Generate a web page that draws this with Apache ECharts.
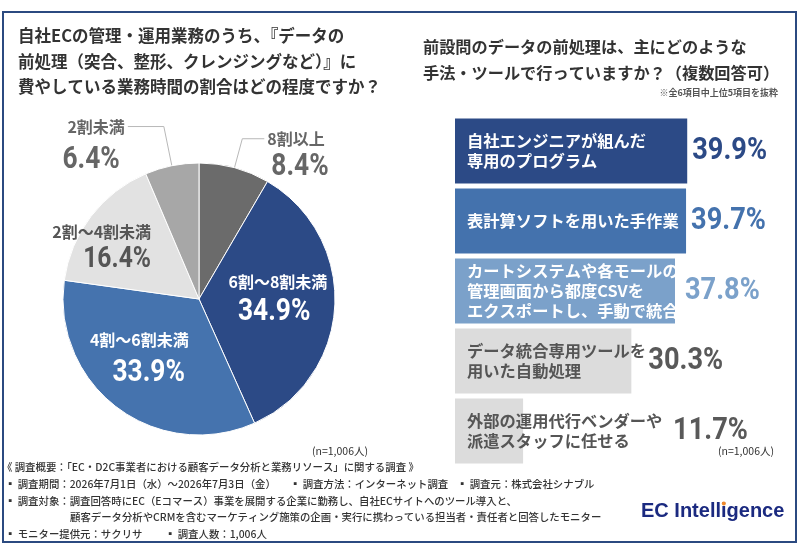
<!DOCTYPE html>
<html><head><meta charset="utf-8">
<script src="https://cdn.jsdelivr.net/npm/echarts@6/dist/echarts.min.js"></script>
<style>html,body{margin:0;padding:0;background:#fff}#c{width:800px;height:553px}</style>
</head><body><div id="c"></div>
<script>
// ---- data ----
const pieNames = ['8割以上', '6割～8割未満', '4割～6割未満', '2割～4割未満', '2割未満'];
const pieValues = [8.4, 34.9, 33.9, 16.4, 6.4];
const barCategories = [
  '自社エンジニアが組んだ\n専用のプログラム',
  '表計算ソフトを用いた手作業',
  'カートシステムや各モールの\n管理画面から都度CSVを\nエクスポートし、手動で統合',
  'データ統合専用ツールを\n用いた自動処理',
  '外部の運用代行ベンダーや\n派遣スタッフに任せる'
];
const barValues = [39.9, 39.7, 37.8, 30.3, 11.7];
const sampleNote = '(n=1,006人)';

// ---- styles ----
const JP = '"Noto Sans CJK JP", "Noto Sans", sans-serif';
const NUM = 'Roboto';
const NUM_SCALE = 0.85;
const pieColors = ['#6b6b6b', '#2c4a86', '#4573ae', '#e2e2e2', '#a7a7a7'];
const pieTextColors = ['#666666', '#ffffff', '#ffffff', '#555555', '#666666'];
const barColors = ['#2c4a86', '#4472ad', '#7ba1ca', '#dcdcdc', '#dcdcdc'];
const barTextColors = ['#ffffff', '#ffffff', '#ffffff', '#555555', '#555555'];
const valueColors = ['#2c4a86', '#4472ad', '#7ba1ca', '#595959', '#595959'];
const valueDistance = [5, 5, 10, 17, 150];

const nameLines = {0: [30, 22], 4: [40, 36]};
const nameShift = {1: [8, -21], 2: [-17, -16], 3: [-41, -24]};
const valueShift = {0: [0, 29], 1: [5, 9], 2: [-9, 17], 3: [-30, 4], 4: [0, 34]};

function pieItems(forValues) {
  return pieNames.map(function (n, i) {
    const item = {name: n, value: pieValues[i]};
    item.itemStyle = forValues ? {color: 'rgba(0,0,0,0)', borderWidth: 0} : {color: pieColors[i]};
    const outside = nameLines[i];
    if (outside) {
      item.label = {position: 'outside', distanceToLabelLine: forValues ? 7 : 3};
      item.labelLine = {show: true, length: outside[0], length2: outside[1],
        lineStyle: forValues ? {opacity: 0, width: 0} : {color: '#b8b8b8', width: 1}};
      if (forValues && i === 4) item.label.distanceToLabelLine = 8;
    } else {
      item.label = {position: 'inside'};
      item.labelLine = {show: false};
    }
    item.label.color = pieTextColors[i];
    if (forValues && i === 3) item.label.fontSize = 29;
    return item;
  });
}

const chart = echarts.init(document.getElementById('c'), null, {renderer: 'canvas'});
chart.setOption({
  animation: false,
  backgroundColor: '#ffffff',
  title: [
    {text: '自社ECの管理・運用業務のうち、『データの\n前処理（突合、整形、クレンジングなど）』に\n費やしている業務時間の割合はどの程度ですか？',
     left: 18, top: 23, padding: 0,
     textStyle: {fontFamily: JP, fontSize: 16.5, fontWeight: 'bold', color: '#333', lineHeight: 25.5}},
    {text: '前設問のデータの前処理は、主にどのような\n手法・ツールで行っていますか？（複数回答可）',
     left: 423, top: 34, padding: 0,
     textStyle: {fontFamily: JP, fontSize: 16.2, fontWeight: 'bold', color: '#333', lineHeight: 26}}
  ],
  grid: {left: 455, top: 116, width: 291, height: 350, containLabel: false},
  xAxis: {type: 'value', min: 0, max: 50, show: false},
  yAxis: {type: 'category', data: barCategories, inverse: true, show: false},
  series: [
    {
      type: 'pie', center: [199, 299], radius: 136, startAngle: 90, clockwise: true,
      avoidLabelOverlap: false, z: 2,
      itemStyle: {borderColor: '#ffffff', borderWidth: 1},
      label: {show: true, formatter: '{b}', fontFamily: JP, fontWeight: 'bold', fontSize: 16},
      labelLayout: function (p) {
        const s = nameShift[p.dataIndex];
        return s ? {dx: s[0], dy: s[1]} : {};
      },
      data: pieItems(false)
    },
    {
      type: 'pie', center: [199, 299], radius: 136, startAngle: 90, clockwise: true,
      avoidLabelOverlap: false, silent: true, z: 3,
      label: {show: true, formatter: '{c}%', fontFamily: NUM, fontWeight: 'bold', fontSize: 31},
      labelLayout: function (p) {
        const s = valueShift[p.dataIndex];
        return s ? {dx: s[0], dy: s[1]} : {};
      },
      data: pieItems(true)
    },
    {
      type: 'bar', barWidth: 65,
      data: barValues.map(function (v, i) {
        return {value: v, itemStyle: {color: barColors[i]}, label: {color: barTextColors[i]}};
      }),
      label: {show: true, position: 'insideLeft', distance: 12, formatter: '{b}',
              fontFamily: JP, fontWeight: 'bold', fontSize: 16.3, lineHeight: 20}
    },
    {
      type: 'bar', barWidth: 65, barGap: '-100%', silent: true, z: 3,
      itemStyle: {color: 'rgba(0,0,0,0)'},
      data: barValues.map(function (v, i) {
        return {value: v, label: {color: valueColors[i], distance: valueDistance[i]}};
      }),
      label: {show: true, position: 'right', formatter: '{c}%',
              fontFamily: NUM, fontWeight: 'bold', fontSize: 32}
    }
  ],
  graphic: (function () {
    const ft = '500 10.4px ' + JP;
    const t = function (x, y, s) {
      return {type: 'text', x: x, y: y, silent: true, style: {text: s, font: ft, fill: '#333', verticalAlign: 'middle'}};
    };
    const logoFont = 'bold 20px "Liberation Sans", Arial, sans-serif';
    const cv = document.createElement('canvas').getContext('2d');
    cv.font = logoFont;
    const dotX = 641 + cv.measureText('EC Intell').width + cv.measureText('i').width / 2;
    return [
      {type: 'rect', shape: {x: 3, y: 12, width: 793, height: 530}, style: {fill: 'none', stroke: '#2b4a80', lineWidth: 2}, silent: true},
      {type: 'text', right: 22, top: 88, style: {text: '※全6項目中上位5項目を抜粋', font: 'bold 9px ' + JP, fill: '#555'}},
      {type: 'text', left: 312, top: 446, style: {text: sampleNote, font: '10.5px ' + JP, fill: '#333'}},
      {type: 'text', left: 718, top: 446, style: {text: sampleNote, font: '10.5px ' + JP, fill: '#333'}},
      t(2, 467, '《 調査概要：「EC・D2C事業者における顧客データ分析と業務リソース」に関する調査 》'),
      t(5, 484, '▪ 調査期間：2026年7月1日（水）～2026年7月3日（金）'),
      t(290, 484, '▪ 調査方法：インターネット調査'),
      t(457, 484, '▪ 調査元：株式会社シナブル'),
      t(5, 501, '▪ 調査対象：調査回答時にEC（Eコマース）事業を展開する企業に勤務し、自社ECサイトへのツール導入と、'),
      t(70, 517, '顧客データ分析やCRMを含むマーケティング施策の企画・実行に携わっている担当者・責任者と回答したモニター'),
      t(5, 534, '▪ モニター提供元：サクリサ'),
      t(165, 534, '▪ 調査人数：1,006人'),
      {type: 'text', x: 641, y: 511, style: {text: 'EC Intelligence', font: logoFont, fill: '#1b2a80', verticalAlign: 'middle'}},
      {type: 'circle', shape: {cx: dotX, cy: 503.5, r: 2}, style: {fill: '#f0892a'}, z: 200, silent: true}
    ];
  })()
});

// Narrow the numeric labels (the reference uses a condensed numeric face)
function condense(el) {
  if (el.getTextContent) {
    const tc = el.getTextContent();
    if (tc && tc.style && /Roboto/.test(String(tc.style.fontFamily || '') + String(tc.style.font || ''))) {
      tc.scaleX = NUM_SCALE;
      tc.markRedraw();
      el.markRedraw();
    }
  }
  if (el.isGroup) el.eachChild(condense);
}
chart.getZr().storage.getRoots().forEach(condense);
chart.getZr().refreshImmediately();
</script>
</body></html>
